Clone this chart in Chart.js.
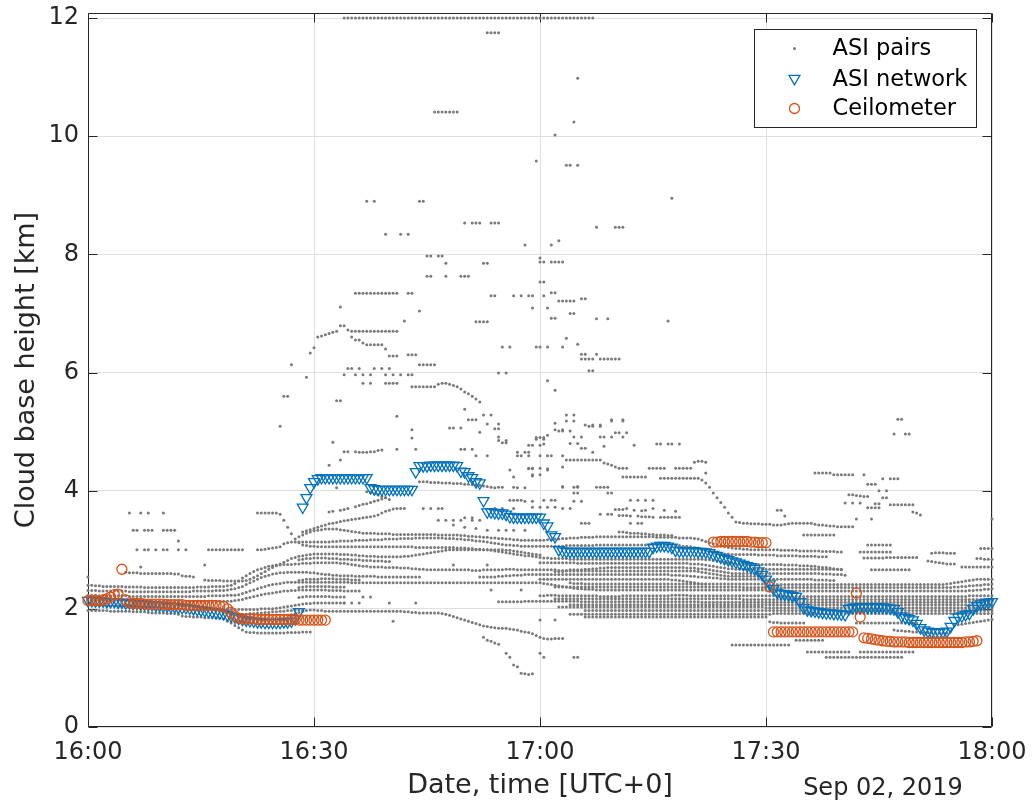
<!DOCTYPE html>
<html>
<head>
<meta charset="utf-8">
<script src="https://cdn.jsdelivr.net/npm/chart.js@4.4.0/dist/chart.umd.min.js"></script>
<style>
html,body{margin:0;padding:0;background:#ffffff;}
#wrap{width:1036px;height:810px;}
</style>
</head>
<body>
<div id="wrap"><canvas id="c" width="1036" height="810"></canvas></div>
<script>
// ---------------- DATA (time = minutes after 16:00 UTC, height = km) ----------------
const timeTicks = [0, 30, 60, 90, 120];
const timeTickLabels = ['16:00', '16:30', '17:00', '17:30', '18:00'];
const heightTicks = [0, 2, 4, 6, 8, 10, 12];
const heightAxisMax = 12.085;
const dateLabel = 'Sep 02, 2019';
const seriesNames = ['ASI pairs', 'ASI network', 'Ceilometer'];

// ASI network, one value every 30 s from 16:00 to 18:00
const networkHeight = [
2.14,2.14,2.13,2.13,2.13,2.12,2.12,2.12,2.11,2.11,
2.10,2.10,2.09,2.09,2.08,2.08,2.07,2.07,2.06,2.06,
2.05,2.05,2.04,2.04,2.03,2.02,2.02,2.01,2.00,1.99,
1.98,1.97,1.96,1.95,1.94,1.93,1.92,1.90,1.88,1.86,
1.84,1.82,1.81,1.80,1.79,1.78,1.78,1.77,1.77,1.77,
1.77,1.77,1.78,1.78,1.79,1.83,1.95,3.72,3.88,4.05,
4.15,4.20,4.22,4.22,4.22,4.22,4.22,4.22,4.22,4.22,
4.22,4.22,4.22,4.22,4.22,4.05,4.03,4.02,4.02,4.02,
4.02,4.02,4.02,4.02,4.02,4.02,4.02,4.32,4.42,4.42,
4.42,4.43,4.43,4.43,4.43,4.43,4.43,4.43,4.42,4.33,
4.32,4.25,4.22,4.15,4.13,3.83,3.64,3.64,3.63,3.62,
3.62,3.60,3.56,3.55,3.55,3.55,3.55,3.55,3.55,3.55,
3.55,3.45,3.40,3.25,3.22,3.00,2.98,2.97,2.97,2.97,
2.97,2.97,2.97,2.97,2.97,2.97,2.97,2.97,2.97,2.97,
2.97,2.97,2.97,2.97,2.97,2.97,2.97,2.97,2.97,2.97,
3.04,3.06,3.07,3.07,3.06,3.04,2.99,2.98,2.98,2.98,
2.98,2.98,2.97,2.97,2.96,2.95,2.92,2.90,2.87,2.85,
2.83,2.81,2.79,2.77,2.75,2.73,2.71,2.68,2.64,2.58,
2.50,2.42,2.34,2.28,2.26,2.25,2.24,2.22,2.21,2.12,
2.02,1.98,1.97,1.96,1.95,1.94,1.93,1.93,1.92,1.92,
1.91,1.90,2.00,2.02,2.03,2.03,2.03,2.03,2.03,2.03,
2.03,2.03,2.02,2.01,2.00,1.95,1.88,1.85,1.83,1.81,
1.75,1.68,1.64,1.62,1.61,1.60,1.60,1.61,1.62,1.70,
1.80,1.86,1.88,1.90,1.92,2.00,2.05,2.08,2.10,2.11,
2.12];

// Ceilometer segments (30 s spacing)
const ceilEarly = [
2.14,2.14,2.14,2.14,2.15,2.17,2.20,2.24,2.25,2.67,
2.15,2.10,2.09,2.09,2.09,2.08,2.08,2.08,2.08,2.08,
2.08,2.07,2.07,2.07,2.07,2.07,2.06,2.06,2.06,2.06,
2.06,2.06,2.06,2.06,2.06,2.05,2.04,2.00,1.94,1.88,
1.84,1.83,1.83,1.83,1.83,1.82,1.82,1.82,1.82,1.82,
1.82,1.82,1.82,1.82,1.82,1.82,1.81,1.81,1.81,1.81,
1.81,1.81,1.81,1.81];
const ceilHigh = [3.13,3.13,3.14,3.14,3.14,3.14,3.14,3.14,3.14,3.14,3.13,3.13,3.12,3.12,3.12];
const ceilMid = [2.37,1.61,1.61,1.61,1.61,1.61,1.61,1.61,1.61,1.61,1.61,1.61,1.61,1.61,1.61,1.61,1.61,1.61,1.61,1.61,1.61,1.61,1.61];
const ceilLate = [
2.27,1.86,1.51,1.50,1.49,1.48,1.47,1.46,1.45,1.45,
1.44,1.44,1.44,1.44,1.43,1.43,1.43,1.43,1.43,1.43,
1.43,1.43,1.43,1.43,1.43,1.43,1.43,1.43,1.43,1.44,
1.44,1.45,1.46];
const ceilSegments = [[0, ceilEarly], [83, ceilHigh], [90.5, ceilMid], [102, ceilLate]];

// ASI pairs: tracks of heights every 30 s (start minute given in pairsTracks)
const pairsBottom = [
1.97,1.97,1.97,1.97,1.97,1.97,1.96,1.96,1.96,1.96,
1.96,1.96,1.95,1.95,1.95,1.95,1.94,
1.93,1.93,1.93,1.93,1.92,1.92,1.92,1.91,
1.88,1.87,1.87,1.86,1.86,1.86,1.85,1.85,1.85,1.84,1.84,1.83,
1.79,1.76,1.72,1.68,1.64,1.61,
1.60,1.60,1.59,1.59,1.59,1.59,1.59,1.59,1.59,1.59,
1.60,1.60,1.60,1.60,1.61,1.61,1.61];
const pairsBandA = [
2.40,2.40,2.39,2.39,2.38,2.38,2.38,2.38,2.38,2.38,
2.37,2.37,2.37,2.37,2.37,2.36,2.36,2.36,2.36,2.36,
2.36,2.36,2.36,2.36,2.36,2.36,2.36,2.36,2.36,2.37,
2.37,2.37,2.37,2.38,2.38,2.38,2.38,2.39,2.40,
2.43,2.47,2.52,2.56,2.60,2.63,2.66,2.68,2.70,2.72,
2.73,2.74,2.74,2.75,2.75,2.75,2.76,2.76,2.77,2.77,2.77,2.78,
2.78,2.78,2.78,2.78,2.78,2.78,2.77,2.77,2.76,2.75,2.74,2.73,
2.72,2.72,2.71,2.71,2.71,2.71,2.70,2.70,2.70,2.70,2.69,2.69,2.69,2.68,2.68,2.67];
const pairsBandA2 = [
2.67,2.66,2.66,2.66,2.66,2.66,2.66,2.66,2.66,2.66,
2.66,2.66,2.66,2.65,2.65,2.65,2.66,2.66,2.66,2.66,
2.66,2.66,2.67,2.67,2.67,2.66,2.66,2.66,2.66,2.66,
2.66,2.66,2.66,2.66,2.66,2.66,2.65,2.65,2.65,2.66,
2.66,2.66,2.66,2.67,2.67,2.68,2.68,2.69];
const pairsBandB = [
2.31,2.31,2.31,2.30,2.30,2.30,2.30,2.30,2.30,2.30,
2.30,2.29,2.29,2.29,2.29,2.29,2.29,2.29,2.29,2.29,
2.29,2.29,2.29,2.29,2.29,2.29,2.29,2.29,2.30,2.30,
2.30,2.30,2.30,2.30,2.31,2.31,2.31,2.32,2.33,2.34,
2.36,2.38,2.41,2.44,2.47,2.50,2.53,2.55,2.57,2.59,2.60,
2.61,2.61,2.62,2.62,2.62,2.62,2.62,2.62,2.61,2.61,
2.60,2.59,2.58,2.58,2.57,2.57,2.56,2.56,2.56,2.56,
2.55,2.55,2.55,2.55,2.55,2.55,2.54,2.54,2.54,2.54,2.54,2.54,2.54,2.54,2.54,2.54,2.54,2.54];
const pairsBandC = [
2.23,2.23,2.23,2.22,2.22,2.22,2.22,2.22,2.22,2.22,
2.22,2.21,2.21,2.21,2.21,2.21,2.21,2.21,2.21,2.21,
2.21,2.21,2.21,2.21,2.21,2.21,2.21,2.21,2.21,2.21,
2.21,2.21,2.22,2.22,2.22,2.22,2.22,2.23,2.23,2.23,
2.24,2.26,2.28,2.30,2.32,2.34,2.36,2.38,2.40,2.41,
2.42,2.43,2.44,2.45,2.45,2.45,2.45,2.45,2.45,2.45,
2.45,2.45,2.45,2.45,2.45,2.45,2.45,2.45,2.45,2.45,
2.44,2.44,2.44,2.44,2.44,2.44,2.44,2.44,2.44,2.44,
2.44,2.44,2.44,2.44,2.44,2.44,2.44,2.44,2.44,2.44,
2.44,2.44,2.44,2.44,2.44,2.44,2.44,2.44,2.44,2.44,
2.44,2.44,2.44,2.44,2.44,2.44,2.44,2.44,2.44,2.44,
2.44,2.44,2.44,2.44,2.44,2.44,2.44,2.44,2.44,2.44,2.44];
const pairsBandD = [
2.15,2.15,2.15,2.14,2.14,2.14,2.14,2.14,2.14,2.14,
2.14,2.13,2.13,2.13,2.13,2.13,2.13,2.13,2.12,2.12,
2.12,2.12,2.12,2.12,2.12,2.12,2.12,2.12,2.12,2.12,
2.12,2.12,2.12,2.12,2.12,2.13,2.13,2.13,2.13,2.14,
2.15,2.16,2.18,2.19,2.21,2.22,2.24,2.25,2.26,2.27,
2.28,2.29,2.30,2.30,2.31,2.31,2.32,2.32,2.32,2.32,
2.32,2.32,2.32,2.32,2.31,2.31,2.31,2.31,2.30,2.30,2.30,2.30,2.30];
const pairsBandE = [
2.06,2.06,2.06,2.06,2.06,2.05,2.05,2.05,2.05,2.05,
2.05,2.05,2.04,2.04,2.04,2.04,2.04,2.04,2.04,2.03,
2.03,2.03,2.03,2.03,2.03,2.03,2.02,2.02,2.02,2.02,
2.02,2.02,2.01,2.01,2.01,2.00,2.00,2.00,1.99,1.99,
1.99,1.99,1.99,1.99,1.99,1.99,2.00,2.00,2.00,2.00,
2.01,2.02,2.03,2.04,2.05,2.06,2.07,2.08,2.09,2.09,
2.10,2.10,2.10,2.10,2.10,2.10,2.10,2.10,2.10];
const pairsBandF = [
1.90,1.90,1.90,1.91,1.91,1.92,1.92,1.93,1.93,1.94,
1.94,1.95,1.95,1.96,1.96,1.97,1.97,1.98,1.98,1.98];
const pairsRise = [
2.62,2.61,2.61,2.61,2.60,2.60,2.60,2.60,2.60,2.60,2.60,2.60,2.60,2.59,2.59,
2.56,2.55,2.55,2.54,
null,null,
2.49,2.48,2.48,2.48,2.48,2.47,2.47,2.47,2.47,2.47,2.47,2.48,
2.50,2.53,2.56,2.60,2.63,2.67,2.70,2.73,2.76,2.79,2.82,2.85,2.87,2.89,
2.90,2.91,2.92,2.93,2.93,2.93,2.93,2.93,2.93,2.93,2.92,2.92,2.92,2.91,2.91,2.90,
2.90,2.89,2.89,2.89,2.88,2.88,2.88,2.88,2.88,2.88,2.88,2.89,2.89,2.90,2.91,2.92,
2.93,2.94,2.95,2.96,2.97,2.98,2.99,3.00,3.00,3.00,3.00,3.00,3.00,3.00,3.00,3.00,
3.00,3.00,3.00,3.00,3.00,3.00,2.99,2.99,2.98,2.97,2.96,2.95,2.94,2.93,2.92,2.91];
const pairsMainLow = [
3.00,null,3.00,3.00,null,3.00,null,3.00,3.00,null,null,3.00,null,3.00,
null,null,null,null,null,
3.00,3.00,3.00,3.00,3.00,3.00,3.00,3.00,3.00,3.00,
null,null,null,
3.00,3.00,3.01,3.02,3.03,3.04,3.05,
3.10,3.12,3.13,3.13,3.13,3.13,3.13,3.13,3.13,3.13,3.13,3.13,3.13,
3.14,3.14,3.15,3.15,3.15,3.15,3.16,3.16,3.16,3.16,3.17,3.17,3.17,3.17,3.18,3.18,3.18,3.18,3.19,3.19,
3.19,3.19,3.20,3.20,3.20,3.20,3.20,3.20,3.20,3.20,3.19,3.19,3.19,3.18,3.18,3.17,3.17,3.16,3.15,3.15,3.14,
3.13,3.12,3.11,3.10,3.09,3.08,3.08,3.07,3.07,3.06,3.06,3.06,3.06,3.06,3.06];
const pairsMainHiA = [3.33,3.33,null,3.33,3.33,3.33,null,null,3.33,3.33,3.33,3.33];
const pairsMainHi = [
3.22,3.25,3.28,3.30,3.32,3.33,3.34,3.35,3.35,3.35,
3.35,3.34,3.33,3.32,3.31,3.30,3.29,3.28,3.28,3.28,
3.28,3.27,3.27,3.27,3.27,3.26,3.26,3.26,3.26,3.26,
3.26,3.26,3.26,3.26,3.26,3.26,3.26,3.25,3.25,3.25,
3.25,3.25,3.25,3.24,3.24,3.23,3.23,3.22,3.22,3.21,
3.21,3.20,3.20,3.19,3.19,3.18,3.18,3.17,3.17,3.16,3.16,3.16,3.16,3.16,3.16];
const pairsDrop = [
3.62,3.62,3.62,3.62,3.62,3.62,
3.60,3.50,3.38,3.27,3.18,3.12,
3.08,3.07,3.06,3.06,3.05,3.05,3.05,3.05,3.05,3.05,
3.05,3.05,3.05,3.05,3.05,3.05,3.05,3.05,3.05,3.05,
3.05,3.05,3.05,3.05,3.05,3.05,3.05,3.05,3.05,3.05,
3.04,3.04,3.04,3.04,3.04,3.04,3.04,3.04,3.04,3.04,
3.04,3.03,3.03,3.03,3.02,3.02,3.01,3.01,3.00,3.00,
2.99,2.98,2.97,2.96,2.95,2.94,2.93,2.92,2.91,2.90,2.90,2.89,2.88,2.87];
const pairsLowFan = [
1.90,1.92,1.94,1.96,1.97,1.98,1.98,1.97,1.97,1.96,
1.96,1.96,1.96,1.96,1.96,1.96,1.96,1.96,1.96,1.96,
1.96,1.96,1.96,1.96,1.96,1.96,1.96,1.96,1.96,1.96,
1.95,1.95,1.94,1.94,1.93,1.93,1.93,1.93,1.93,1.93,
1.92,1.91,1.89,1.87,1.85,1.83,1.81,1.79,1.77,1.75,
1.73,1.71,1.70,1.69,1.68,1.67,1.67,1.67,1.66,1.65,
1.64,1.62,1.61,1.60,1.58,1.55,1.52,1.50,1.49,1.49,
1.50,1.50,1.50];
const pairsDip = [1.52,1.47,1.45,1.42,1.40,null,1.25,1.18,1.05,1.02,0.91,0.90,0.89,0.90];
const pairsClimbA = [
3.30,3.32,3.34,3.36,3.38,3.40,3.42,3.44,3.45,3.46,
3.48,3.49,3.50,3.51,3.52,3.53,3.54,3.55,3.56,3.57,
3.59,3.62,3.65,3.67,3.69,3.70,3.70,3.70];
const pairsClimbB = [3.64,3.65,null,3.67,3.68,3.70,null,3.73,3.75,3.77,3.78,3.80,3.82,3.84,3.86,3.88];
const pairsClimbC = [3.98,3.97,3.95,3.93,3.90,3.88,3.85];
const pairs413 = [4.15,4.15,4.15,4.14,4.14,4.14,4.13,4.13,4.13,4.12,4.12,4.12,4.11,4.11,4.10,4.10,4.09,4.08,4.07,4.06,4.05];
const pairs466 = [4.66,4.66,null,4.66,4.65,4.65,4.65,4.66,4.66,4.68,4.69];
const pairs670 = [5.92,6.33,6.42,6.60,6.62,6.64,6.66,6.68,6.70,6.79,6.79,6.72,6.70,6.70,6.70,6.70,6.70,6.70,6.70,6.70,6.70,6.70,6.70,6.70,6.70];
const pairs645 = [6.60,6.55,6.55,6.50,6.47,6.47,6.47,6.47,6.47,6.40,6.28,6.28,6.28,null,null,null,5.76,5.76,5.76,5.76,5.76,5.76,5.76,5.80,5.82,5.82,5.80,5.78,5.76,5.72,5.67,5.64,5.60,5.55,5.50];
const pairs734 = [7.34,7.34,7.34,7.34,7.34,7.34,7.34,7.34,7.34,7.34,7.34,7.34];
const pairsTop12 = [
12,12,12,12,12,12,12,12,12,12,12,12,12,12,12,12,12,12,12,12,
12,12,12,12,12,12,12,12,12,12,12,12,12,12,12,12,12,12,12,12,
12,12,12,12,12,12,12,12,12,12,12,12,12,12,12,12,12,12,12,12,
12,12,12,12,12,12,12];
// extra rows filling the dense band 16:28-16:40
const pairsF285 = [2.83,2.84,2.85,2.85,2.86,2.86,2.86,2.86,2.85,2.85,2.85,2.84,2.84,2.84,2.83,2.83,2.83,2.82,2.82,2.82,2.81,2.81,2.81,2.80,2.80];
const pairsF250 = [2.48,2.49,2.50,2.50,2.50,2.50,2.51,2.51,2.51,2.51,2.50,2.50,2.50,2.50,2.49,2.49,2.49];
const pairsF238 = [2.36,2.37,2.38,2.38,2.38,2.38,2.38,2.38,2.38,2.37,2.37,2.37,2.37];
const pairsF220 = [2.19,2.20,2.21,2.21,2.21,2.21,2.21,2.21,2.21,2.20,2.20,2.20,2.20];
const pairsC320 = [
3.16,3.17,3.17,3.18,3.18,3.19,3.19,3.20,3.20,3.20,
3.21,3.21,3.21,3.21,3.22,3.22,3.22,3.22,3.22,3.22,
3.22,3.22,3.22,3.22,3.22,3.22,3.22,3.22,3.22,3.22,
3.21,3.21,3.21,3.21,3.21,3.21,3.20,3.20,3.20,3.20,
3.19,3.18,3.16,3.14,3.12,3.10,3.08,3.06,3.05,3.04,
3.03,3.02,3.02,3.01,3.01,3.00,3.00,3.00,3.00,3.00,
3.00,3.00,3.00,2.99,2.99,2.99,2.99,2.99,2.98,2.98,
2.98,2.98,2.98,2.98,2.97,2.97,2.97,2.97,2.96,2.96];
const pairsC306 = [
3.06,3.06,3.06,3.06,3.06,3.06,3.07,3.07,3.07,3.07,
3.07,3.07,3.07,3.07,3.08,3.08,3.08,3.08,3.08,3.08,
3.08,3.08,3.08,3.08,3.08,3.08,3.08,3.08,3.08,3.08,
3.08,3.08,3.08,3.08,3.07,3.07,3.07,3.06,3.06,3.05,
3.04,3.03,3.01,2.99,2.97,2.95,2.94,2.93,2.93,2.93,
2.92,2.92,2.92,2.92,2.92,2.92,2.92,2.91,2.91,2.91,
2.91,2.91,2.90,2.90,2.90,2.90,2.90,2.90,2.89,2.89,
2.89,2.89,2.89,2.88,2.88,2.88];
const pairsC285 = [
2.86,2.86,2.85,2.85,2.85,2.85,2.85,2.84,2.84,2.84,
2.84,2.84,2.84,2.84,2.84,2.84,2.84,2.84,2.84,2.84,
2.84,2.84,2.84,2.84,2.84,2.84,2.84,2.84,2.84,2.84,
2.84,2.84,2.84,2.84,2.84,2.84,2.84,2.84,2.84,2.84,
2.84,2.84,2.84,2.83,2.83,2.82,2.81,2.80,2.79,2.78,
2.77,2.76,2.76,2.75,2.75,2.75,2.75,2.75,2.75,2.75,
2.75,2.75,2.75,2.75,2.74,2.74,2.74,2.74,2.73,2.73,
2.73,2.72,2.72,2.71,2.70,2.70,2.69,2.68,2.67,2.66];
const pairsC277 = [
2.78,2.78,2.78,2.78,2.78,2.78,2.78,2.78,2.78,2.78,
2.77,2.77,2.77,2.77,2.77,2.77,2.77,2.77,2.77,2.77,
2.77,2.77,2.77,2.77,2.77,2.77,2.77,2.77,2.77,2.77,
2.77,2.77,2.77,2.77,2.77,2.77,2.77,2.77,2.77,2.77,
2.76,2.76,2.76,2.75,2.74,2.73,2.72,2.71,2.70,2.69,
2.68,2.68,2.67,2.67,2.67,2.67,2.67,2.67,2.67,2.67,
2.67,2.67,2.67,2.67,2.67,2.67,2.67,2.67,2.67,2.67,
2.67,2.67,2.67,2.67,2.67,2.67,2.67,2.67,2.67,2.67,2.67];
const pairsC270 = [
2.69,2.70,2.70,2.70,2.70,2.70,2.70,2.70,2.70,2.70,
2.70,2.70,2.70,2.70,2.70,2.70,2.70,2.70,2.70,2.70,
2.70,2.70,2.69,2.69,2.69,2.68,2.68,2.67,2.66,2.65,
2.64,2.63,2.62,2.61,2.60,2.60,2.60,2.60,2.60,2.60,
2.60,2.60,2.60,2.60,2.60,2.60,2.60,2.60,2.60,2.60,
2.60,2.60,2.60,2.60,2.60,2.60,2.60,2.60,2.59,2.59,
2.59,2.58,2.58,2.58,2.57];
const pairsC264 = [
2.63,2.63,2.63,2.64,2.64,2.64,2.64,2.64,2.64,2.64,
2.64,2.64,2.64,2.64,2.64,2.64,2.64,2.64,2.64,2.64,
2.64,2.64,2.64,2.64,2.64,2.64,2.64,2.64,2.64,2.64,
2.64,2.64,2.64,2.64,2.64,2.64,2.64,2.64,2.63,2.62,
2.61,2.60,2.59,2.58,2.57,2.56,2.55,2.55,2.55,2.55,
2.55,2.55,2.55,2.55,2.55,2.55,2.55];
const pairsC258 = [
2.54,2.54,2.54,2.54,2.54,
2.55,2.55,2.56,2.56,2.57,2.57,2.57,2.58,2.58,2.58,
2.58,2.58,2.58,2.58,2.58,2.58,2.58,2.58,2.58,2.58,
2.58,2.58,2.58,2.58,2.58,2.58,2.58,2.58,2.58,2.58,
2.58,2.58,2.58,2.58,2.58,2.58,2.58,2.58,2.58,2.58,
2.58,2.58,2.58,2.58,2.58,2.58,2.57,2.57,2.57,2.56,
2.56,2.55,2.55,2.54,2.54,2.53,2.53,2.52,2.52,2.51,
2.51,2.50,2.50,2.50,2.50,2.50,2.50,2.50,2.50,2.50,
2.50,2.50,2.50,2.50,2.50,2.50,2.50,2.50,2.50,2.50,
2.50,2.50,2.50,2.50,2.49,2.49,2.49,2.49,2.48,2.48];
const pairsC250 = [
2.50,2.50,2.50,2.50,2.50,2.50,2.50,2.50,2.50,2.50,
2.50,2.50,2.50,2.50,2.50,2.50,2.50,2.50,2.50,2.50,
2.50,2.50,2.50,2.50,2.50,2.50,2.50,2.50,2.50,2.50,
2.50,2.50,2.50,2.50,2.50,2.49,2.49,2.48,2.47,2.46,
2.45,2.44,2.43,2.42,2.42];
const pairsC237 = [
2.37,2.37,2.37,2.37,2.37,2.37,2.37,2.37,2.37,2.37,
2.37,2.37,2.37,2.37,2.37,2.37,2.37,2.37,2.37,2.37,
2.37,2.37,2.37,2.37,2.37,2.37,2.37,2.37,2.37,2.37,
2.37,2.37,2.37,2.37,2.37,2.37,2.37,2.37,2.37,2.37,
2.37,2.37,2.37,2.37,2.37,2.37,2.37,2.37,2.37,2.37,
2.36,2.36,2.36,2.36,2.36,2.36,2.36,2.36,2.36,2.36,
2.36,2.36,2.36,2.36,2.36,2.36,2.36,2.36,2.36,2.36,
2.36,2.36,2.36,2.36,2.36,2.36,2.36,2.36,2.36,2.36,
2.36,2.36,2.36,2.36,2.36,2.36,2.36,2.36,2.36,2.36,
2.36,2.36,2.36,2.36,2.36,2.36,2.36,2.36,2.36,2.36,
2.36,2.36,2.36,2.36,2.36,2.36,2.37,2.37,2.38,2.38,
2.39,2.39,2.40,2.40,2.41,2.41,2.42];
const pairsC232 = [
2.43,2.42,2.41,2.40,2.39,2.38,2.37,2.36,2.35,2.34,
2.34,2.33,2.33,2.33,2.32,2.32,2.32,2.32,2.32,2.32,
2.32,2.32,2.32,2.32,2.32,2.32,2.32,2.32,2.32,2.32,
2.32,2.32,2.32,2.32,2.32,2.32,2.32,2.32,2.32,2.32,
2.32,2.32,2.32,2.32,2.32,2.32,2.32,2.32,2.32,2.32,
2.32,2.32,2.32,2.32,2.32,2.32,2.32,2.32,2.32,2.32,
2.31,2.31,2.31,2.31,2.30,2.30,2.30,2.30,2.30,2.30,
2.30,2.30,2.30,2.30,2.30,2.30,2.30,2.30,2.30,2.30,
2.30,2.30,2.30,2.30,2.30,2.30,2.30,2.30,2.30,2.30,
2.30,2.30,2.30,2.30,2.30,2.30,2.30,2.30,2.30,2.30,
2.30,2.30,2.30,2.30,2.30,2.30,2.30,2.30,2.30,2.30,
2.30,2.30,2.30,2.31,2.31,2.32,2.32,2.33,2.33,2.34];
const pairsC242 = [
2.44,2.43,2.43,2.43,2.42,2.42,2.42,2.42,2.42,2.42,
2.42,2.42,2.42,2.42,2.42,2.42,2.42,2.42,2.42,2.42,
2.42,2.42,2.42,2.42,2.42,2.42,2.42,2.42,2.42,2.42,
2.42,2.42,2.42,2.42,2.42,2.42,2.42,2.42,2.42,2.42,
2.42,2.42,2.42,2.42,2.42,2.42,2.42,2.42,2.42,2.42,
2.42,2.42,2.42,2.41,2.41,2.41,2.41,2.41,2.41,2.41,
2.41,2.41,2.41,2.41,2.41,2.41,2.41,2.41,2.41,2.41,
2.41,2.41,2.41,2.41,2.41,2.41,2.41,2.41,2.41,2.41,
2.41,2.41,2.41,2.41,2.41,2.41,2.41,2.41,2.41,2.41,
2.41,2.41,2.41,2.41,2.41,2.41,2.41,2.41,2.41,2.41,
2.42,2.43,2.44,2.45,2.46,2.47,2.48,2.49,2.50,2.50,2.50,2.50,2.50];
const pairsC222 = [
2.22,2.22,2.23,2.23,2.23,2.22,2.22,2.22,2.22,2.22,
2.22,2.22,2.22,2.22,2.22,2.22,2.21,2.21,2.21,2.21,
2.21,2.21,2.22,2.22,2.22,2.22,2.22,2.22,2.22,2.22,
2.22,2.22,2.22,2.22,2.22,2.23,2.23,2.23,2.23,2.23,
2.22,2.22,2.22,2.22,2.22,2.22,2.22,2.22,2.22,2.22,
2.22,2.22,2.22,2.22,2.22,2.22,2.22,2.22,2.22,2.22,
2.22,2.22,2.22,2.22,2.21,2.21,2.21,2.21,2.21,2.21,
2.21,2.21,2.21,2.21,2.21,2.21,2.21,2.21,2.21,2.21,
2.21,2.21,2.21,2.21,2.21,2.21,2.21,2.21,2.21,2.21,
2.21,2.21,2.21,2.21,2.21,2.21,2.21,2.21,2.21,2.21,
2.21,2.21,2.21,2.21,2.21,2.21,2.21,2.21,2.21,2.21,
2.21,2.21,2.21,2.21,2.22,2.22,2.22,2.22,2.22,2.22,
2.22];
const pairsC217 = [
2.17,2.17,2.17,2.17,2.17,2.17,2.17,2.17,2.17,2.17,
2.17,2.17,2.17,2.17,2.17,2.17,2.17,2.17,2.17,2.17,
2.17,2.17,2.17,2.17,2.17,2.17,2.17,2.17,2.17,2.17,
2.17,2.17,2.17,2.17,2.17,2.17,2.17,2.17,2.17,2.17,
2.17,2.17,2.17,2.17,2.17,2.17,2.17,2.17,2.17,2.17,
2.16,2.16,2.16,2.16,2.16,2.16,2.16,2.16,2.16,2.16,
2.16,2.16,2.16,2.16,2.16,2.16,2.16,2.16,2.16,2.16,
2.16,2.16,2.16,2.16,2.16,2.16,2.16,2.16,2.16,2.16,
2.16,2.16,2.16,2.16,2.16,2.16,2.16,2.16,2.16,2.16,
2.16,2.16,2.16,2.16,2.16,2.16,2.16,2.16,2.16,2.16,
2.16,2.16,2.16,2.16,2.16,2.16,2.16,2.16,2.16,2.16,
2.16,2.16,2.16,2.16,2.16,2.16,2.16];
const pairsC212 = [
2.12,2.12,2.12,2.12,2.12,2.12,2.12,2.13,2.13,2.13,
2.13,2.13,2.13,2.13,2.13,2.13,2.13,2.13,2.13,2.13,
2.13,2.13,2.12,2.12,2.12,2.12,2.12,2.12,2.12,2.12,
2.12,2.12,2.12,2.12,2.12,2.12,2.12,2.12,2.12,2.12,
2.12,2.12,2.12,2.12,2.12,2.12,2.12,2.12,2.12,2.12,
2.12,2.12,2.12,2.12,2.11,2.11,2.11,2.11,2.11,2.11,
2.11,2.11,2.11,2.11,2.11,2.11,2.11,2.11,2.11,2.11,
2.11,2.11,2.11,2.11,2.11,2.11,2.11,2.11,2.11,2.11,
2.11,2.11,2.11,2.11,2.11,2.11,2.11,2.11,2.11,2.11,
2.11,2.11,2.11,2.11,2.11,2.11,2.11,2.11,2.11,2.11,
2.11,2.11,2.11,2.11,2.11,2.11,2.11,2.11,2.11,2.11,
2.11,2.11,2.11,2.11,2.11,2.11,2.11,2.11,2.11,2.11,
2.11,2.11,2.11,2.12,2.12,2.12,2.12,2.12,2.12,2.12,
2.12,2.13];
const pairsC207 = [
2.07,2.07,2.07,2.07,2.07,2.07,2.07,2.07,2.07,2.07,
2.07,2.07,2.07,2.07,2.07,2.07,2.07,2.07,2.07,2.07,
2.07,2.07,2.07,2.07,2.07,2.07,2.07,2.07,2.07,2.07,
2.07,2.07,2.07,2.07,2.07,2.07,2.07,2.07,2.07,2.07,
2.07,2.07,2.07,2.07,2.07,2.07,2.07,2.07,2.07,2.07,
2.07,2.07,2.07,2.07,2.07,2.07,2.07,2.07,2.07,2.07,
2.07,2.07,2.07,2.07,2.07,2.07,2.07,2.07,2.07,2.07,
2.07,2.07,2.07,2.07,2.07,2.07,2.07,2.07,2.07,2.07,
2.07,2.07,2.07,2.07,2.07,2.07,2.07,2.07,2.07,2.07,
2.07,2.07,2.07,2.07,2.07,2.07,2.07,2.07,2.07,2.07,
2.07,2.07,2.07,2.07,2.07,2.07,2.07,2.07,2.07,2.07,
2.07,2.07,2.07];
const pairsC202 = [
2.03,2.03,2.03,2.03,2.03,2.03,2.03,2.03,2.03,2.03,
2.03,2.03,2.03,2.03,2.03,2.03,2.03,2.03,2.03,2.03,
2.03,2.03,2.03,2.03,2.03,2.03,2.03,2.03,2.03,2.03,
2.03,2.03,2.03,2.03,2.03,2.03,2.03,2.03,2.03,2.03,
2.03,2.03,2.03,2.03,2.03,2.03,2.03,2.03,2.03,2.03,
2.03,2.03,2.03,2.03,2.03,2.02,2.02,2.02,2.02,2.02,
2.02,2.02,2.02,2.02,2.02,2.02,2.02,2.02,2.02,2.02,
2.02,2.02,2.02,2.02,2.02,2.02,2.02,2.02,2.02,2.02,
2.02,2.02,2.02,2.02,2.02,2.02,2.02,2.02,2.02,2.02,
2.02,2.02,2.02,2.02,2.02,2.02,2.02,2.02,2.02,2.02,
2.02,2.02,2.02,2.02,2.02,2.02,2.02,2.02,2.02,2.02,
2.02,2.02,2.02,2.02,2.02,2.02];
const pairsC197 = [
1.97,1.97,1.97,1.97,1.97,1.97,1.97,1.97,1.97,1.97,
1.97,1.97,1.97,1.97,1.97,1.97,1.97,1.97,1.97,1.97,
1.97,1.97,1.97,1.97,1.97,1.97,1.97,1.97,1.97,1.97,
1.97,1.97,1.97,1.97,1.97,1.97,1.97,1.97,1.97,1.97,
1.97,1.97,1.97,1.97,1.97,1.97,1.97,1.97,1.97,1.97,
1.97,1.97,1.97,1.97,1.97,1.97,1.97,1.97,1.97,1.97,
1.97,1.97,1.97,1.97,1.97,1.97,1.97,1.97,1.97,1.97,
1.97,1.97,1.97,1.97,1.97,1.97,1.97,1.97,1.97,1.97,
1.97,1.97,1.97,1.97,1.97,1.97,1.97,1.97,1.97,1.97,
1.97,1.97,1.97,1.97,1.97,1.97,1.97,1.97,1.97,1.97,
1.97,1.97,1.97,1.97,1.97,1.97,1.97,1.97,1.97];
const pairsC192 = [
1.91,1.91,1.91,1.91,1.91,1.91,1.91,1.91,1.91,1.91,
1.91,1.91,1.91,1.91,1.91,1.91,1.91,1.91,1.91,1.91,
1.91,1.91,1.91,1.91,1.91,1.91,1.91,1.91,1.91,1.91,
1.91,1.91,1.91,1.91,1.91,1.91,1.91,1.91,1.91,1.91,
1.91,1.91,1.91,1.91,1.91,1.91,1.91,1.91,1.91,1.91,
1.91,1.91,1.91,1.91,1.92,1.92,1.92,1.92,1.92,1.92,
1.92,1.92,1.92,1.92,1.92,1.92,1.92,1.92,1.92,1.92,
1.92,1.92,1.92,1.92,1.92,1.92,1.92,1.92,1.92,1.92,
1.92,1.92,1.92,1.92,1.92,1.92,1.92,1.92,1.92,1.92,
1.92,1.92,1.92,1.92,1.92,1.92,1.92,1.92,1.92,1.92,
1.92,1.92,1.92,1.92,1.92,1.92,1.92,1.92,1.92,1.92,
1.92,1.92,1.92];
const pairsC186 = [
1.86,1.86,1.86,1.86,1.86,1.86,1.86,1.86,1.86,1.86,
1.86,1.86,1.86,1.86,1.86,1.86,1.86,1.86,1.86,1.86,
1.86,1.86,1.86,1.86,1.86,1.86,1.86,1.86,1.86,1.86,
1.86,1.86,1.86,1.86,1.86,1.86,1.86,1.86,1.86,1.86,
1.86,1.86,1.86,1.86,1.86,1.86,1.86,1.86,1.86];
const pairsU452 = [4.59,4.52,4.52,4.52,4.52,4.52,4.52,4.52,4.52,4.52,4.52,4.47,4.45,4.43,4.40,4.38,4.38,4.38,null,null,null,null,null,4.38,4.38,4.38,4.38,4.38,null,null,4.38,4.38,4.38,4.38,4.38,4.48,4.50,4.50,4.48];
const pairsU423 = [4.23,4.23,4.23,4.23,4.23,4.23,4.23,null,null,null,4.21,4.21,4.21,4.21,4.21,4.21,4.21,4.21,4.21,4.21,4.21,4.18,4.13,4.06,3.96,3.88,3.80,3.72,3.62,3.55,3.47,3.46,3.45,3.45,3.44,3.44,3.44,3.43,3.43,3.43,3.42,3.42,3.42,3.43,3.44,3.45,3.45,3.45,3.45,3.45,3.45,3.43,3.42,3.42,3.41,3.40,3.40,3.39,3.39,3.39,3.39,3.39];
const pairsU430 = [4.30,4.30,4.30,4.30,4.30,4.27,4.27,4.27,4.27,4.27,4.27];
const pairsU325 = [3.25,3.25,3.25,3.25,3.25,3.25,3.25,3.25,3.25];
const pairsU308 = [3.08,3.08,3.08,3.08,3.08,3.08,3.08];
const pairsU296 = [2.96,2.96,2.96,2.96,2.96,2.96,2.96,2.96,2.96];
const pairsU286 = [2.86,2.86,2.86,2.86,2.86,2.86,2.87,2.87,2.87,2.87,2.87,2.87,2.87,2.87,2.87];
const pairsU294 = [2.94,2.95,2.95,2.95,2.94,2.94,2.94];
const pairsU278 = [2.81,2.80,2.79,2.78,2.77,2.76,2.76,2.76];
const pairsU302 = [3.02,3.02,3.02,3.02];
const pairsU285 = [2.85,2.85,2.84,2.84,2.84];
const pairsU271 = [2.71,2.71,2.71,2.71,2.71,2.71,2.71,2.71,2.71];
const pairsU266 = [2.66,2.66,2.66,2.66,2.66,2.66,2.66,2.66,2.66,2.66,2.66];
const pairsR358 = [3.60,null,3.60,3.60,null,3.58,3.58,3.58,3.57,null,3.57,3.56,3.56,3.56,3.55,null,3.55,3.55,3.55,3.55,3.55,3.55];
const pairsR328 = [3.30,3.30,3.29,3.28,3.28,3.28,3.27,3.27,3.26,3.26,3.25,3.25,3.25,3.24,3.24];
const pairsL139 = [1.39,1.39,1.39,1.39,1.39,1.39,1.39,1.39,1.39,1.39,1.39,1.39,1.39,1.39,1.39,1.39];
const pairsL176a = [1.78,1.77,1.77,1.76,1.76,1.76,1.76,1.76,1.76,1.76];
const pairsL147 = [1.47,1.47,1.47,1.47,1.47,1.47,1.47,1.47];
const pairsL127a = [1.27,1.27,1.27,1.27,1.27,1.27,1.27,1.27,1.27,1.27,1.27,1.27];
const pairsL118 = [1.18,1.18,1.18,1.18,1.18,1.18,1.18,1.18,1.18,1.18,1.18,1.18,1.18,1.18,1.18,1.18,1.18,1.18,1.18,1.18,1.18];
const pairsL127b = [1.27,1.27,1.27,1.27,1.27,1.27,1.27,1.27,1.27,1.27,1.27,1.27,1.27,1.27,1.27];
const pairsL176b = [1.76,1.76,1.76,1.76,1.76,1.76,1.76,1.76,1.76,1.76,1.76,1.76,1.76,1.76,1.76,1.76,1.76];
const pairsL162 = [1.64,1.63,1.63,1.62,1.62,1.61,1.61,1.60,1.60,1.60,1.60,1.59,1.59,1.59,1.59];
const pairsL176c = [1.72,1.73,1.74,1.75,1.76,1.77,1.78,1.79,1.80,1.81,1.82];

const pairsTracks = [
  [0, pairsBottom], [0, pairsBandA], [44.5, pairsBandA2], [0, pairsBandB], [0, pairsBandC],
  [0, pairsBandD], [0, pairsBandE], [19, pairsBandF], [5, pairsRise], [6.5, pairsMainLow],
  [6, pairsMainHiA], [28, pairsMainHi], [22.5, pairsDrop], [27, pairsLowFan], [52.5, pairsDip],
  [28.5, pairsClimbA], [32, pairsClimbB], [37, pairsClimbC], [44, pairs413], [34, pairs466],
  [29, pairs670], [35, pairs645], [35.5, pairs734], [34, pairsTop12],
  [28, pairsF285], [28, pairsF250], [28, pairsF238], [28, pairsF220],
  [60.5, pairsC320], [60.5, pairsC306], [60.5, pairsC285], [60, pairsC277], [68.5, pairsC270],
  [62, pairsC264], [52, pairsC258], [60, pairsC250], [62, pairsC237],
  [60.5, pairsC232], [64, pairsC242], [60, pairsC222], [62, pairsC217], [54.5, pairsC212],
  [64, pairsC207], [62.5, pairsC202], [66, pairsC197], [64, pairsC192], [66, pairsC186],
  [63, pairsU452], [71, pairsU423], [96.5, pairsU430], [95, pairsU325], [103.5, pairsU308],
  [102.5, pairsU296], [103, pairsU286], [112, pairsU294], [111.5, pairsU278], [118.5, pairsU302],
  [118, pairsU285], [116, pairsU271], [104, pairsU266], [68, pairsR358], [70.5, pairsR328],
  [85.5, pairsL139], [90.5, pairsL176a], [94, pairsL147], [95.5, pairsL127a], [98, pairsL118],
  [102.5, pairsL127b], [102, pairsL176b], [107, pairsL162], [115, pairsL176c]
];

// isolated ASI-pair estimates [minute, km]
const pairsSparse = [
[0,2.54],[5.5,3.62],[7,3.62],[8,3.62],[10,3.62],[12,3.15],[15.5,2.74],[7,2.71],
[25.5,5.09],[26,5.60],[26.5,5.60],[27,6.13],
[33,5.52],[33.5,5.52],[33.5,7.11],[32.5,4.82],[33.5,4.52],[32,4.43],[33,4.05],
[34.5,6.07],[35,6.07],[36,6.07],[38,6.07],[39,6.07],[40,6.07],
[34,5.96],[35.5,5.96],[36.5,5.96],[37.5,5.96],[39.5,5.96],[40.5,5.96],[41.5,5.96],[42.5,5.96],[43,5.96],
[36.5,5.82],[37.5,5.82],[39.5,5.82],[40,5.82],[40.5,5.82],[41,5.82],
[42.5,7.34],[43,7.34],
[37,8.90],[38,8.90],[44,8.90],[44.5,8.90],
[39.5,8.34],[41.5,8.34],[42.5,8.34],
[45,7.97],[45.5,7.97],[46.5,7.97],[47,7.97],
[45,7.63],[45.5,7.63],[47.5,7.85],[47.5,7.63],[49.5,7.63],[50,7.63],[50.5,7.63],[52.5,7.85],[53,7.85],
[46,10.41],[46.5,10.41],[47,10.41],[47.5,10.41],[48,10.41],[48.5,10.41],[49,10.41],
[53,11.75],[53.5,11.75],[54,11.75],[54.5,11.75],
[50,8.53],[51,8.53],[51.5,8.53],[52,8.53],[53.5,8.53],[54,8.53],[54.5,8.53],
[44,7.04],[42,6.87],
[42.5,6.30],[43,6.30],[43.5,6.30],
[44,6.13],[44.5,6.13],[45,6.13],[45.5,6.13],[46,6.13],
[41,5.26],[43,5.03],[43,4.89],[43.5,4.70],[41,4.70],
[50,5.38],[50.5,5.20],[51,5.20],[51.5,5.20],[52.5,5.28],[53.5,5.28],
[48,5.06],[48.5,5.06],[49.5,5.06],[52,4.99],[53,5.13],[54.5,5.13],[54.5,4.91],[55,4.81],[55.5,4.81],
[49.5,4.70],[50,4.70],[51,4.70],[51.5,4.59],[53,4.59],
[51.5,6.86],[52,6.86],[52.5,6.86],[53,6.86],
[53.5,7.30],[54,7.30],[56.5,7.30],[57.5,7.30],[58.5,7.30],[59,7.30],[60.5,7.30],
[55,6.43],[56,6.43],[54.5,5.99],[55.5,5.99],
[59.5,6.43],[60,6.43],[61,6.43],[63,6.43],
[60,7.53],[60.5,7.53],
[60,7.87],[60.5,7.87],[61.5,7.87],[62,7.87],[62.5,7.87],[63,7.87],[60,7.94],
[61.5,7.35],[62,7.35],[62.5,7.21],[63,7.21],[63.5,7.21],[64,7.21],[64.5,7.21],[65.5,7.25],[66,7.25],
[59,7.09],[61,7.09],[61.5,6.92],[62,6.92],[64,7.00],[64.5,7.00],
[63.5,6.58],[65,6.48],[65.5,6.31],[66,6.31],[67.5,6.31],
[65.5,6.23],[66,6.23],[66.5,6.23],[67,6.23],[68,6.23],[68.5,6.23],[69,6.23],[69.5,6.23],[70,6.23],[70.5,6.23],
[66.5,6.03],[67,6.03],[67.5,6.91],[69,6.91],[77,6.87],
[61,5.86],[62,5.70],
[58,8.16],[61.5,8.16],[62.5,8.23],
[59.5,9.58],[62,10.02],[63.5,9.51],[64,9.51],[65,9.51],[64.5,10.24],[65,10.98],
[67.5,8.46],[70,8.46],[70.5,8.46],[71,8.46],[77.5,8.95],
[57,4.59],[57.5,4.59],[58.5,4.59],[60,4.59],[61,4.59],[61.5,4.59],
[59.5,4.87],[60.5,4.87],[61,4.94],[60.5,4.79],
[62,5.14],[62.5,5.01],[63,5.01],[64,5.01],[63.5,5.18],[64.5,5.18],[64.5,4.91],[65.5,4.91],
[66.5,5.09],[67,5.09],[68,5.09],[66,4.72],[67,4.65],[68,4.91],[68.5,4.91],[69.5,4.91],[68.5,4.75],
[69.5,5.18],[71,5.18],[70,4.98],[70.5,4.98],[71.5,4.98],[71,4.91],[72.5,4.77],
[75.5,4.79],[76,4.79],[77,4.79],[77.5,4.79],[78.5,4.79],
[57,4.05],[58,4.05],[54.5,4.06],[55,4.06],[56.5,4.06],[56,4.35],[56.5,4.23],[58.5,4.37],[59,4.37],[59,4.25],[61,4.37],
[63,4.40],[63,4.06],[64.5,4.06],[65,4.06],[67.5,4.06],[68,4.06],[68.5,4.06],[69,4.06],
[69,3.96],[69.5,3.96],[64.5,3.96],[65,3.96],
[72,3.84],[73,3.84],[74,3.84],[75,3.84],[64.5,3.82],[65.5,3.82],
[58,3.82],[59,3.82],[60.5,3.84],[61.5,3.84],[62,3.84],
[61,3.72],[62,3.72],[63,3.70],[64,3.70],
[70,3.68],[71.5,3.70],[73.5,3.66],[75,3.70],[76.5,3.67],[78,3.65],
[70.5,3.68],[71,3.68],[72.5,3.67],[74,3.67],
[65.5,3.45],[66,3.45],[66.5,3.45],[72,3.45],[73,3.45],[73.5,3.45],
[56,3.84],[56.5,3.84],[57,3.84],[57.5,3.84],[59,3.72],[60,3.72],
[54,3.70],[55,3.70],[56.5,3.70],
[54.5,3.33],[55.5,3.33],[56.5,3.33],[58,3.33],
[44.5,3.70],[45.5,3.70],[46.5,3.70],[47,3.70],
[46.5,3.50],[47.5,3.50],[48.5,3.50],[49.5,3.50],[51,3.50],[52,3.50],
[50,3.54],[51,3.54],[48.5,3.42],[50,3.38],[51.5,3.36],[53,3.33],
[54,5.05],[54.5,5.05],[54.5,4.85],[55.5,4.85],
[57,4.65],[58,4.65],[58.5,4.65],
[59.5,4.90],[60,4.90],[60.5,4.90],
[58.5,4.77],[59,4.77],[60,4.77],
[62,5.03],[63,5.03],
[63.5,5.28],[64.5,5.28],
[64,4.80],[65,4.80],[65.5,4.72],
[66,5.11],[67,5.11],[68,5.11],[69.5,5.20],[71,5.20],
[58.5,4.38],[59,4.38],[60,4.38],[59,4.27],[60,4.27],[61,4.35],
[63,4.07],[65,4.07],[82,4.30],
[91.5,3.67],[92,3.67],[92.5,3.57],
[101,3.93],[101.5,3.93],[102,3.92],[102.5,3.91],[103,3.90],[103.5,3.90],
[100.5,3.79],[101.5,3.79],[102.5,3.79],
[103.5,3.71],[104,3.71],[104.5,3.71],[105,3.71],[104.5,3.78],[105,3.78],
[105.5,3.88],[106,3.88],
[106.5,3.76],[107,3.76],[107.5,3.76],[108,3.76],[108.5,3.76],[109,3.76],[109.5,3.76],
[109.5,3.64],[110,3.62],[110.5,3.59],
[107.5,5.21],[108,5.21],[107,4.96],[108.5,4.96],[109,4.96],
[105,4.00],[106,4.00],
[103.5,4.11],[104,4.11],[104.5,4.11],
[105.5,4.20],[106.5,4.20],[107,4.20],[107.5,4.20],
[102,3.52],[104,3.52],[120,3.52],[103,4.27],
[60,1.25],[60.5,1.18],[64.5,1.18],[65,1.18],[60,1.81],[62,1.81],
[34,2.10],[35,2.10],[36,2.10],[36.5,2.20],[37.5,2.20],[40,2.10],[43.5,2.10],[40.5,1.79],
[53.5,2.32],[57.5,2.32],[48.5,2.74],[53,2.74]
];

// ---------------- BUILD POINTS ----------------
const AX = '#262626';
function trackPoints(start, values) {
  const out = [];
  values.forEach((v, i) => { if (v !== null) out.push({ x: start + i * 0.5, y: v }); });
  return out;
}
const pairsPoints = [];
pairsTracks.forEach(([s, arr]) => pairsPoints.push(...trackPoints(s, arr)));
pairsSparse.forEach(([t, h]) => pairsPoints.push({ x: t, y: h }));
const networkPoints = trackPoints(0, networkHeight);
const ceilPoints = [];
ceilSegments.forEach(([s, arr]) => ceilPoints.push(...trackPoints(s, arr)));

const FONT = '"DejaVu Sans", sans-serif';
Chart.defaults.font.family = FONT;

function drawTri(ctx, x, y, r) {
  const s = Math.sin(Math.PI / 3) * r;
  ctx.beginPath();
  ctx.moveTo(x, y + r);
  ctx.lineTo(x - s, y - r / 2);
  ctx.lineTo(x + s, y - r / 2);
  ctx.closePath();
  ctx.stroke();
}

const framePlugin = {
  id: 'frame',
  beforeDatasetsDraw(chart) {
    const { ctx, chartArea: a, scales: { x, y } } = chart;
    ctx.save();
    ctx.strokeStyle = AX;
    ctx.lineWidth = 1;
    const L = Math.round(a.left) + 0.5, R = Math.round(a.right) - 0.5;
    const T = Math.round(a.top) + 0.5, B = Math.round(a.bottom) - 0.5;
    const tl = 9;
    ctx.beginPath();
    ctx.rect(L, T, R - L, B - T);
    timeTicks.forEach(v => {
      const px = Math.round(x.getPixelForValue(v)) + 0.5;
      ctx.moveTo(px, B); ctx.lineTo(px, B - tl);
      ctx.moveTo(px, T); ctx.lineTo(px, T + tl);
    });
    heightTicks.forEach(v => {
      const py = Math.round(y.getPixelForValue(v)) + 0.5;
      ctx.moveTo(L, py); ctx.lineTo(L + tl, py);
      ctx.moveTo(R, py); ctx.lineTo(R - tl, py);
    });
    ctx.stroke();
    ctx.restore();
  },
  afterDraw(chart) {
    const { ctx, chartArea: a } = chart;
    ctx.save();
    ctx.fillStyle = AX;
    ctx.font = '24px ' + FONT;
    ctx.textAlign = 'center';
    ctx.textBaseline = 'alphabetic';
    ctx.fillText(dateLabel, a.right - 109, a.bottom + 68);
    const w = 222, h = 98;
    const lx = Math.round(a.right - 16 - w) + 0.5, ly = Math.round(a.top + 16) + 0.5;
    ctx.fillStyle = '#ffffff';
    ctx.fillRect(lx, ly, w, h);
    ctx.strokeStyle = AX;
    ctx.lineWidth = 1;
    ctx.strokeRect(lx, ly, w, h);
    const mx = lx + 40, tx = lx + 78;
    const rows = [ly + 19, ly + 50, ly + 79];
    ctx.fillStyle = '#7a7a7a';
    ctx.beginPath(); ctx.arc(mx, rows[0], 1.5, 0, Math.PI * 2); ctx.fill();
    ctx.strokeStyle = '#0072BD'; ctx.lineWidth = 1.3;
    drawTri(ctx, mx, rows[1] - 1, 6.3);
    ctx.strokeStyle = '#D95319';
    ctx.beginPath(); ctx.arc(mx, rows[2], 5, 0, Math.PI * 2); ctx.stroke();
    ctx.fillStyle = '#000000';
    ctx.font = '22.5px ' + FONT;
    ctx.textAlign = 'left';
    ctx.textBaseline = 'middle';
    seriesNames.forEach((n, i) => ctx.fillText(n, tx, rows[i] + 1));
    ctx.restore();
  }
};

new Chart(document.getElementById('c'), {
  type: 'scatter',
  data: {
    datasets: [
      { label: seriesNames[2], data: ceilPoints, pointStyle: 'circle', pointRadius: 5, pointHoverRadius: 5,
        pointBorderColor: '#D95319', pointBackgroundColor: 'rgba(0,0,0,0)', pointBorderWidth: 1.3,
        borderColor: '#D95319', backgroundColor: 'rgba(0,0,0,0)', order: 1, clip: false },
      { label: seriesNames[1], data: networkPoints, pointStyle: 'triangle', pointRotation: 180, pointRadius: 6.3, pointHoverRadius: 6.3,
        pointBorderColor: '#0072BD', pointBackgroundColor: 'rgba(0,0,0,0)', pointBorderWidth: 1.3,
        borderColor: '#0072BD', backgroundColor: 'rgba(0,0,0,0)', order: 2, clip: false },
      { label: seriesNames[0], data: pairsPoints, pointStyle: 'circle', pointRadius: 1.5, pointHoverRadius: 1.5,
        pointBorderWidth: 0, pointBackgroundColor: '#7a7a7a', pointBorderColor: '#7a7a7a',
        borderColor: '#7a7a7a', backgroundColor: '#7a7a7a', order: 3, clip: false }
    ]
  },
  options: {
    responsive: false,
    animation: false,
    events: [],
    layout: { padding: { top: 13, right: 44, bottom: 0, left: 0 } },
    plugins: { legend: { display: false }, tooltip: { enabled: false } },
    scales: {
      x: {
        type: 'linear', min: 0, max: 120,
        afterBuildTicks: s => { s.ticks = timeTicks.map(v => ({ value: v })); },
        afterFit: s => { s.height = 83; s.paddingLeft = 0; s.paddingRight = 0; s.paddingTop = 0; s.paddingBottom = 0; },
        grid: { color: '#dfdfdf', lineWidth: 1, drawTicks: false },
        border: { display: false },
        ticks: { callback: v => timeTickLabels[timeTicks.indexOf(v)], font: { size: 24 }, color: AX, padding: 11, maxRotation: 0, autoSkip: false },
        title: { display: true, text: 'Date, time [UTC+0]', font: { size: 27 }, color: AX, padding: { top: 0, bottom: 8 } }
      },
      y: {
        type: 'linear', min: 0, max: heightAxisMax,
        afterBuildTicks: s => { s.ticks = heightTicks.map(v => ({ value: v })); },
        afterFit: s => { s.width = 88; s.paddingLeft = 0; s.paddingRight = 0; s.paddingTop = 0; s.paddingBottom = 0; },
        grid: { color: '#dfdfdf', lineWidth: 1, drawTicks: false },
        border: { display: false },
        ticks: { callback: v => String(v), font: { size: 24, lineHeight: 1 }, color: AX, padding: 9 },
        title: { display: true, text: 'Cloud base height [km]', font: { size: 27 }, color: AX, padding: { top: 11, bottom: 0 } }
      }
    }
  },
  plugins: [framePlugin]
});
</script>
</body>
</html>
